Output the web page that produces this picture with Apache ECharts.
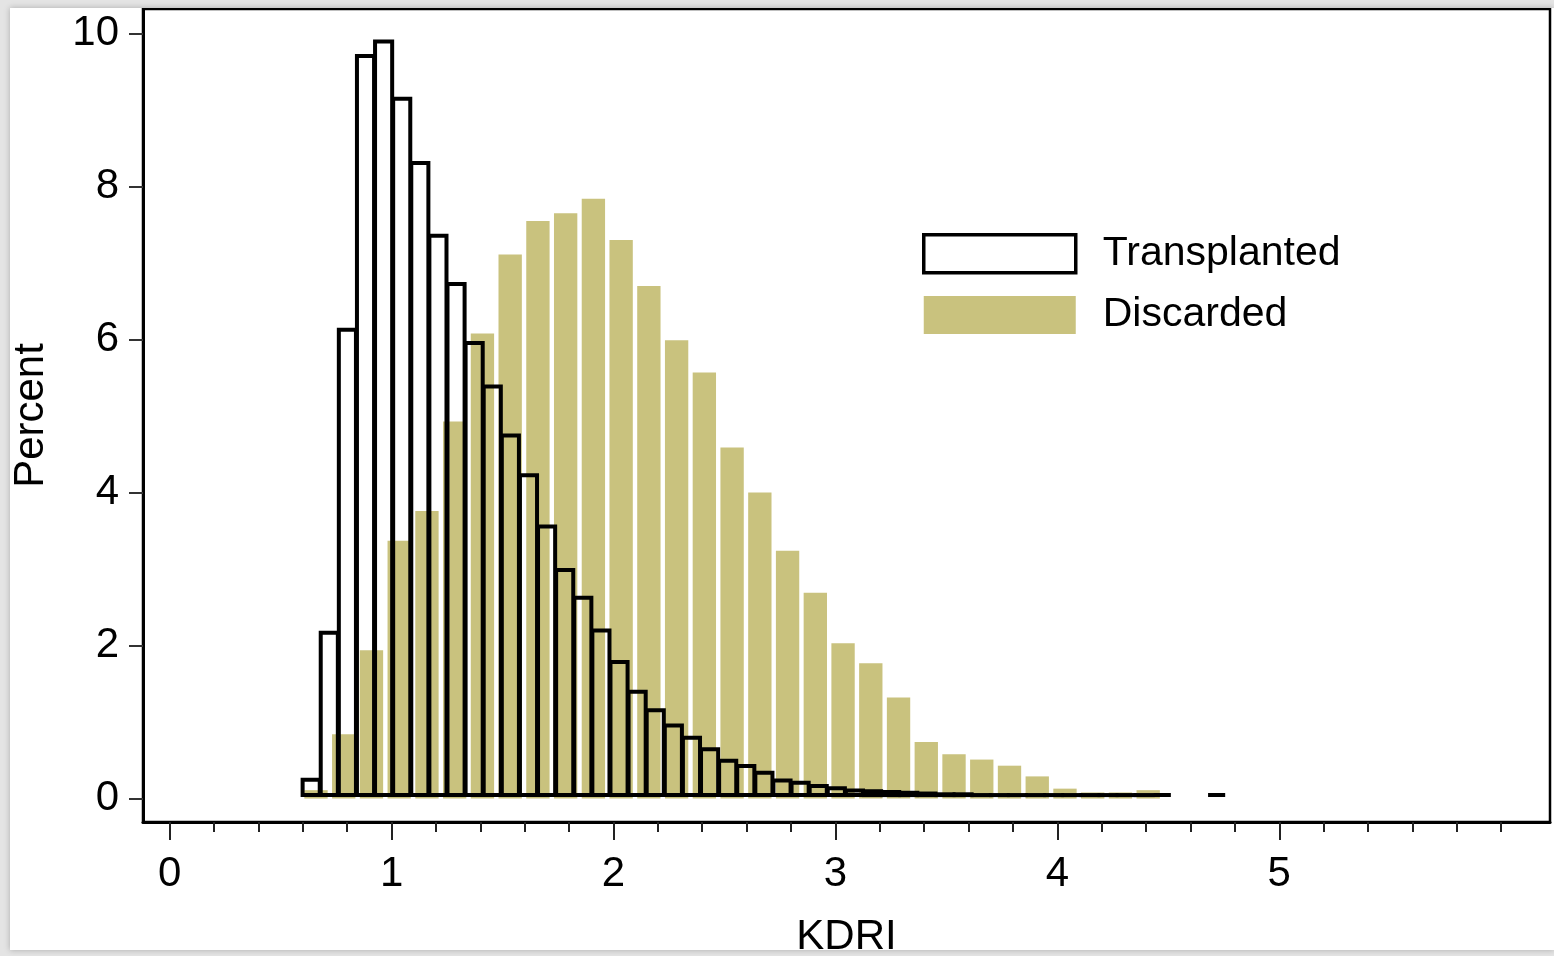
<!DOCTYPE html>
<html>
<head>
<meta charset="utf-8">
<script src="https://cdn.jsdelivr.net/npm/echarts@6/dist/echarts.min.js"></script>
<style>
  html, body { margin: 0; padding: 0; background: #e4e4e4; }
  #chart {
    position: absolute; left: 10px; top: 8px; width: 1544px; height: 942px;
    background: #fff; box-shadow: 0 0 6px rgba(0, 0, 0, 0.25);
  }
</style>
</head>
<body>
<div id="chart"></div>
<script>
// histogram bins (KDRI)
const transStart = 0.597;
const transWidth = 0.0816;
const discStart = 0.597;
const discWidth = 0.125;

// percent per bin
const transplanted = [
  0.22, 2.14, 6.1, 9.68, 9.87, 9.12, 8.28, 7.33, 6.7, 5.93,
  5.36, 4.72, 4.2, 3.53, 2.96, 2.6, 2.17, 1.76, 1.37, 1.13,
  0.93, 0.77, 0.62, 0.47, 0.4, 0.31, 0.21, 0.18, 0.14, 0.11,
  0.08, 0.07, 0.06, 0.05, 0.04, 0.03, 0.03, 0.02, 0.02, 0.02,
  0.02, 0.02, 0.02, 0.02, 0.02, 0.02, 0.02, 0.01, 0, 0, 0.01
];
const discarded = [
  0.11, 0.84, 1.94, 3.37, 3.76, 4.93, 6.08, 7.11, 7.55, 7.65,
  7.84, 7.3, 6.7, 5.99, 5.57, 4.59, 4.0, 3.24, 2.69, 2.03,
  1.77, 1.32, 0.74, 0.58, 0.51, 0.43, 0.29, 0.13, 0.08, 0.08, 0.11
];

const xLabels = [0, 1, 2, 3, 4, 5];
const xMinorTicks = [0.2, 0.4, 0.6, 0.8, 1.2, 1.4, 1.6, 1.8, 2.2, 2.4, 2.6, 2.8,
  3.2, 3.4, 3.6, 3.8, 4.2, 4.4, 4.6, 4.8, 5.2, 5.4, 5.6, 5.8, 6.0];
const yLabels = [0, 2, 4, 6, 8, 10];

const KHAKI = '#c9c27e';
const FONT = '"Liberation Sans", Arial, sans-serif';

const toBins = (vals, start, width) =>
  vals.map((v, i) => [start + i * width, start + (i + 1) * width, v]);

const chart = echarts.init(document.getElementById('chart'));

const xBase = {
  type: 'value',
  min: -0.12,
  max: 6.22,
  position: 'bottom',
  splitLine: { show: false },
};

chart.setOption({
  animation: false,
  backgroundColor: '#fff',
  grid: {
    left: 133, right: 4, top: 1, bottom: 128,
    outerBoundsMode: 'none',
    containLabel: false,
    show: true, borderColor: '#000', borderWidth: 2.5,
  },
  legend: {
    orient: 'vertical',
    left: 907,
    top: 220,
    itemWidth: 152,
    itemHeight: 38,
    itemGap: 20,
    data: [
      { name: 'Transplanted', icon: 'rect', itemStyle: { color: '#fff', borderColor: '#000', borderWidth: 3.5 } },
      { name: 'Discarded', icon: 'rect', itemStyle: { color: KHAKI, borderWidth: 0 } },
    ],
    textStyle: { fontSize: 41, color: '#000', fontFamily: FONT, padding: [0, 0, 0, 22] },
  },
  xAxis: [
    {
      ...xBase,
      name: 'KDRI',
      nameLocation: 'middle',
      nameGap: 94,
      nameTextStyle: { fontSize: 42, color: '#000', fontFamily: FONT },
      axisLine: { show: true, onZero: false, lineStyle: { color: '#000', width: 3 } },
      axisTick: { show: true, customValues: xLabels, length: 18, lineStyle: { color: '#222', width: 2 } },
      axisLabel: { customValues: xLabels, fontSize: 42, color: '#000', fontFamily: FONT, margin: 31 },
    },
    {
      ...xBase,
      axisLine: { show: false, onZero: false },
      axisTick: { show: true, customValues: xMinorTicks, length: 10, lineStyle: { color: '#222', width: 2 } },
      axisLabel: { show: false },
    },
  ],
  yAxis: {
    type: 'value',
    min: -0.306,
    max: 10.32,
    name: 'Percent',
    nameLocation: 'middle',
    nameGap: 91,
    nameTextStyle: { fontSize: 42, color: '#000', fontFamily: FONT },
    splitLine: { show: false },
    axisLine: { show: true, onZero: false, lineStyle: { color: '#000', width: 3 } },
    axisTick: { show: true, customValues: yLabels, length: 14, lineStyle: { color: '#333', width: 2 } },
    axisLabel: { customValues: yLabels, fontSize: 42, color: '#000', fontFamily: FONT, margin: 24 },
  },
  series: [
    {
      name: 'Discarded',
      type: 'custom',
      z: 1,
      itemStyle: { color: KHAKI },
      encode: { x: [0, 1], y: 2 },
      data: toBins(discarded, discStart, discWidth),
      renderItem: (params, api) => {
        const v = api.value(2);
        if (v <= 0) return null;
        const a = api.coord([api.value(0), 0]);
        const b = api.coord([api.value(1), v]);
        return {
          type: 'rect',
          shape: { x: a[0] + 2.2, y: b[1], width: b[0] - a[0] - 4.4, height: a[1] - b[1] },
          style: { fill: KHAKI },
        };
      },
    },
    {
      name: 'Transplanted',
      type: 'custom',
      z: 2,
      itemStyle: { color: '#fff', borderColor: '#000' },
      encode: { x: [0, 1], y: 2 },
      data: toBins(transplanted, transStart, transWidth),
      renderItem: (params, api) => {
        const v = api.value(2);
        if (v <= 0) return null;
        const a = api.coord([api.value(0), 0]);
        const b = api.coord([api.value(1), v]);
        const bottom = a[1] - 3.5;
        const top = Math.min(b[1] - 2, bottom);
        return {
          type: 'rect',
          shape: { x: a[0] + 0.5, y: top, width: b[0] - a[0] - 1, height: bottom - top },
          style: { fill: 'none', stroke: '#000', lineWidth: 4 },
        };
      },
    },
  ],
});
</script>
</body>
</html>
